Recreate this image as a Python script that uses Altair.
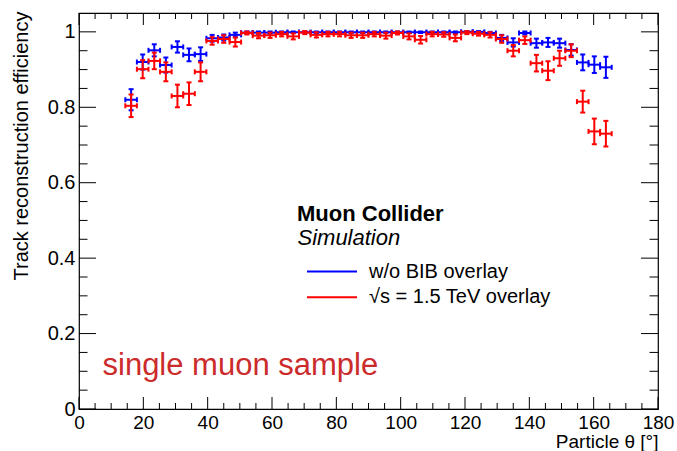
import altair as alt
import pandas as pd

# ---------------- data ----------------
theta = [16.2, 19.8, 23.4, 27.0, 30.6, 34.2, 37.8, 41.4, 45.0, 48.6,
         52.2, 55.8, 59.4, 63.0, 66.6, 70.2, 73.8, 77.4, 81.0, 84.6,
         88.2, 91.8, 95.4, 99.0, 102.6, 106.2, 109.8, 113.4, 117.0, 120.6,
         124.2, 127.8, 131.4, 135.0, 138.6, 142.2, 145.8, 149.4, 153.0, 156.6,
         160.2, 163.8]

blue_eff = [0.820, 0.920, 0.951, 0.912, 0.960, 0.939, 0.941, 0.983, 0.985, 0.992,
            0.998, 0.998, 0.998, 0.999, 0.999, 0.999, 0.999, 0.999, 0.999, 0.999,
            0.999, 0.999, 0.999, 0.999, 0.999, 0.999, 0.999, 0.999, 0.999, 1.000,
            1.000, 0.997, 0.984, 0.972, 0.997, 0.970, 0.972, 0.970, 0.952, 0.919,
            0.913, 0.906]
blue_err = [0.028, 0.020, 0.016, 0.020, 0.015, 0.017, 0.018, 0.009, 0.008, 0.006,
            0.003, 0.003, 0.003, 0.002, 0.002, 0.002, 0.002, 0.002, 0.002, 0.002,
            0.002, 0.002, 0.002, 0.002, 0.002, 0.002, 0.002, 0.002, 0.002, 0.002,
            0.002, 0.003, 0.008, 0.011, 0.004, 0.012, 0.012, 0.012, 0.015, 0.021,
            0.022, 0.028]

red_eff = [0.804, 0.901, 0.923, 0.894, 0.830, 0.836, 0.894, 0.976, 0.981, 0.973,
           0.997, 0.990, 0.991, 0.994, 0.988, 0.998, 0.992, 0.994, 0.994, 0.991,
           0.991, 0.994, 0.990, 0.997, 0.988, 0.979, 0.994, 0.993, 0.984, 0.998,
           0.995, 0.992, 0.981, 0.950, 0.978, 0.917, 0.897, 0.930, 0.950, 0.815,
           0.736, 0.730]
red_err = [0.030, 0.024, 0.022, 0.025, 0.030, 0.030, 0.025, 0.010, 0.010, 0.012,
           0.004, 0.007, 0.007, 0.006, 0.008, 0.004, 0.007, 0.006, 0.006, 0.007,
           0.007, 0.006, 0.008, 0.004, 0.008, 0.010, 0.006, 0.006, 0.009, 0.004,
           0.005, 0.007, 0.010, 0.015, 0.010, 0.022, 0.025, 0.020, 0.017, 0.029,
           0.034, 0.034]

half_bin = 1.8  # half width of a 3.6 degree bin

x_major = [0, 20, 40, 60, 80, 100, 120, 140, 160, 180]
x_minor = [v for v in range(5, 180, 5) if v % 20 != 0]
y_major = [0, 0.2, 0.4, 0.6, 0.8, 1.0]
y_minor = [0.05, 0.1, 0.15, 0.25, 0.3, 0.35, 0.45, 0.5, 0.55,
           0.65, 0.7, 0.75, 0.85, 0.9, 0.95]

legend_labels = ["w/o BIB overlay", "√s = 1.5 TeV overlay"]
series_colors = ["#0000ff", "#ff0000"]

# ---------------- layout ----------------
W, H = 579, 396
FONT = "Liberation Sans"

xs = alt.Scale(domain=[0, 180], nice=False, zero=False)
ys = alt.Scale(domain=[0, 1.05], nice=False, zero=False)

x_axis = alt.Axis(values=x_major, format="d", labelFont=FONT, labelFontSize=19,
                  labelColor="black", labelPadding=4, tickSize=0, ticks=False,
                  labelFlush=False, labelOverlap=False,
                  domain=False, grid=False, title="Particle θ [°]",
                  titleFont=FONT, titleFontSize=19, titleFontWeight="normal",
                  titleColor="black", titleAnchor="end", titleAlign="right",
                  titleBaseline="alphabetic", titleX=W, titleY=38)
y_axis = alt.Axis(values=y_major, format="~g", labelFont=FONT, labelFontSize=20,
                  labelColor="black", labelPadding=4, tickSize=0, ticks=False,
                  labelFlush=False, labelOverlap=False,
                  domain=False, grid=False, title="Track reconstruction efficiency",
                  titleFont=FONT, titleFontSize=20, titleFontWeight="normal",
                  titleColor="black", titleAngle=270, titleAnchor="end",
                  titleAlign="right", titleBaseline="alphabetic",
                  titleX=-52, titleY=-2)


def X(field):
    return alt.X(field, scale=xs, axis=x_axis)


def Y(field):
    return alt.Y(field, scale=ys, axis=y_axis)


def make_df(eff, err):
    d = pd.DataFrame({"theta": theta, "eff": eff, "err": err})
    d["xlo"] = d["theta"] - half_bin
    d["xhi"] = d["theta"] + half_bin
    d["lo"] = d["eff"] - d["err"]
    d["hi"] = d["eff"] + d["err"]
    return d


def series_layers(d, color):
    base = alt.Chart(d)
    hbar = base.mark_rule(color=color, strokeWidth=2).encode(
        x=X("xlo:Q"), x2="xhi:Q", y=Y("eff:Q"))
    vbar = base.mark_rule(color=color, strokeWidth=2).encode(
        x=X("theta:Q"), y=Y("lo:Q"), y2="hi:Q")
    caps = []
    for f in ["lo", "hi"]:
        caps.append(base.mark_tick(color=color, orient="horizontal", size=5,
                                   thickness=2, opacity=1).encode(
            x=X("theta:Q"), y=Y(f + ":Q")))
    for f in ["xlo", "xhi"]:
        caps.append(base.mark_tick(color=color, orient="vertical", size=5,
                                   thickness=2, opacity=1).encode(
            x=X(f + ":Q"), y=Y("eff:Q")))
    return [hbar, vbar] + caps


blue_df = make_df(blue_eff, blue_err)
red_df = make_df(red_eff, red_err)

# ---------------- inward ticks on all four sides ----------------
xmaj_df = pd.DataFrame({"v": x_major})
xmin_df = pd.DataFrame({"v": x_minor})
ymaj_df = pd.DataFrame({"v": y_major})
ymin_df = pd.DataFrame({"v": y_minor})

tick_layers = [
    alt.Chart(xmaj_df).mark_rule(color="black", strokeWidth=1).encode(
        x=X("v:Q"), y=alt.value(H), y2=alt.value(H - 12)),
    alt.Chart(xmaj_df).mark_rule(color="black", strokeWidth=1).encode(
        x=X("v:Q"), y=alt.value(0), y2=alt.value(12)),
    alt.Chart(xmin_df).mark_rule(color="black", strokeWidth=1).encode(
        x=X("v:Q"), y=alt.value(H), y2=alt.value(H - 6)),
    alt.Chart(xmin_df).mark_rule(color="black", strokeWidth=1).encode(
        x=X("v:Q"), y=alt.value(0), y2=alt.value(6)),
    alt.Chart(ymaj_df).mark_rule(color="black", strokeWidth=1).encode(
        y=Y("v:Q"), x=alt.value(0), x2=alt.value(17)),
    alt.Chart(ymaj_df).mark_rule(color="black", strokeWidth=1).encode(
        y=Y("v:Q"), x=alt.value(W), x2=alt.value(W - 17)),
    alt.Chart(ymin_df).mark_rule(color="black", strokeWidth=1).encode(
        y=Y("v:Q"), x=alt.value(0), x2=alt.value(8.5)),
    alt.Chart(ymin_df).mark_rule(color="black", strokeWidth=1).encode(
        y=Y("v:Q"), x=alt.value(W), x2=alt.value(W - 8.5)),
]

# ---------------- legend & annotations ----------------
one = pd.DataFrame({"t": ["x"]})
legend_layers = []
for i, (lab, col) in enumerate(zip(legend_labels, series_colors)):
    yy = 258.5 + i * 25.7
    legend_layers.append(alt.Chart(one).mark_rule(color=col, strokeWidth=2).encode(
        x=alt.value(228), x2=alt.value(278), y=alt.value(yy)))
    legend_layers.append(alt.Chart(pd.DataFrame({"t": [lab]})).mark_text(
        font=FONT, fontSize=20, align="left", baseline="middle", color="black").encode(
        x=alt.value(290), y=alt.value(yy), text="t:N"))

title_layers = [
    alt.Chart(pd.DataFrame({"t": ["Muon Collider"]})).mark_text(
        font=FONT, fontSize=22, fontWeight="bold", align="left",
        baseline="alphabetic", color="black").encode(
        x=alt.value(218), y=alt.value(208), text="t:N"),
    alt.Chart(pd.DataFrame({"t": ["Simulation"]})).mark_text(
        font=FONT, fontSize=22, fontStyle="italic", align="left",
        baseline="alphabetic", color="black").encode(
        x=alt.value(218.5), y=alt.value(232), text="t:N"),
    alt.Chart(pd.DataFrame({"t": ["single muon sample"]})).mark_text(
        font=FONT, fontSize=31, align="left", baseline="alphabetic",
        color="#cc2b2b").encode(
        x=alt.value(23.5), y=alt.value(362), text="t:N"),
]

layers = (tick_layers + series_layers(blue_df, series_colors[0])
          + series_layers(red_df, series_colors[1]) + legend_layers + title_layers)

chart = alt.layer(*layers).properties(
    width=W, height=H,
    autosize=alt.AutoSizeParams(type="none"),
    padding={"left": 79, "top": 13, "right": 19, "bottom": 42},
    background="white",
).configure_view(stroke="black", strokeWidth=1.2)

chart.save("out.html", embed_options={"renderer": "svg", "actions": False})
